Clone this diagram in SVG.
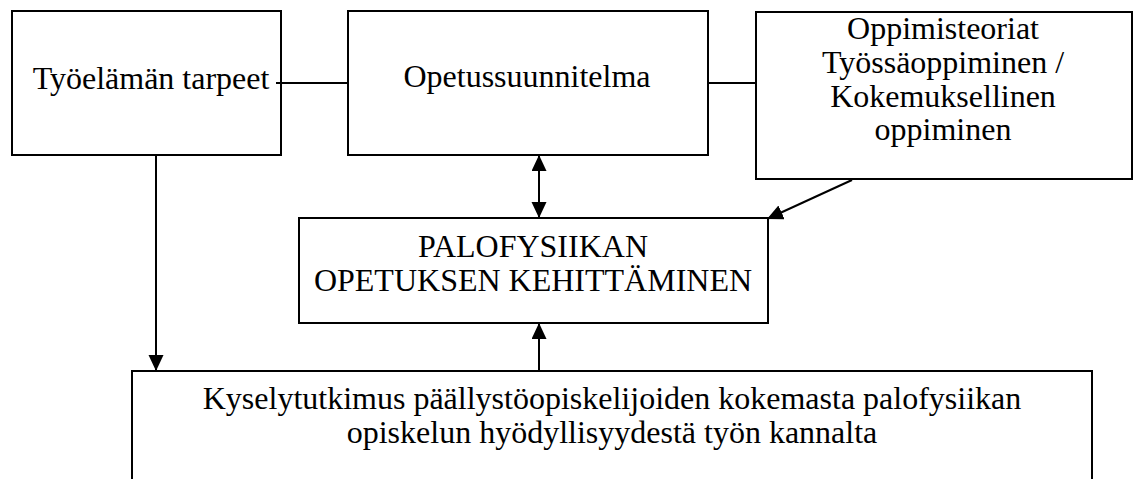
<svg xmlns="http://www.w3.org/2000/svg" width="1140" height="479" viewBox="0 0 1140 479">
  <style>
    .box { fill: #ffffff; stroke: #000000; stroke-width: 2; }
    .lbl { font-family: 'Liberation Serif', Tinos, 'DejaVu Serif', 'Times New Roman', serif; font-size: 32px; fill: #000000; text-anchor: middle; }
    .conn { fill: none; stroke: #000000; stroke-width: 2; }
    .arrow { marker-end: url(#head); }
  </style>
  <defs>
    <marker id="head" markerUnits="userSpaceOnUse" markerWidth="16" markerHeight="16" refX="16" refY="7.5" orient="auto-start-reverse">
      <path d="M0,0 L16,7.5 L0,15 z" fill="#000000"/>
    </marker>
  </defs>
  <rect width="1140" height="479" fill="#ffffff"/>

  <g id="tyoelaman-tarpeet">
    <rect class="box" x="12" y="11" width="269" height="144"/>
    <text class="lbl" x="151" y="89">Työelämän tarpeet</text>
  </g>

  <g id="opetussuunnitelma">
    <rect class="box" x="348" y="11" width="360" height="144"/>
    <text class="lbl" x="527" y="87">Opetussuunnitelma</text>
  </g>

  <g id="oppimisteoriat">
    <rect class="box" x="756" y="12" width="376" height="167"/>
    <text class="lbl" x="943" y="39">Oppimisteoriat</text>
    <text class="lbl" x="943" y="73">Työssäoppiminen /</text>
    <text class="lbl" x="943" y="107">Kokemuksellinen</text>
    <text class="lbl" x="943" y="140">oppiminen</text>
  </g>

  <g id="palofysiikan-opetus">
    <rect class="box" x="299" y="218" width="469" height="105"/>
    <text class="lbl" x="533" y="257">PALOFYSIIKAN</text>
    <text class="lbl" x="533" y="291">OPETUKSEN KEHITTÄMINEN</text>
  </g>

  <g id="kyselytutkimus">
    <rect class="box" x="132" y="371" width="960" height="140"/>
    <text class="lbl" x="612" y="409">Kyselytutkimus päällystöopiskelijoiden kokemasta palofysiikan</text>
    <text class="lbl" x="612" y="443">opiskelun hyödyllisyydestä työn kannalta</text>
  </g>

  <g id="connectors">
    <line class="conn" x1="276" y1="83" x2="348" y2="83"/>
    <line class="conn" x1="708" y1="83" x2="756" y2="83"/>
    <line class="conn arrow" x1="539" y1="155" x2="539" y2="218" marker-start="url(#head)"/>
    <line class="conn arrow" x1="539" y1="371" x2="539" y2="323"/>
    <line class="conn arrow" x1="156" y1="155" x2="156" y2="371"/>
    <line class="conn arrow" x1="852" y1="180" x2="767" y2="219"/>
  </g>
</svg>
